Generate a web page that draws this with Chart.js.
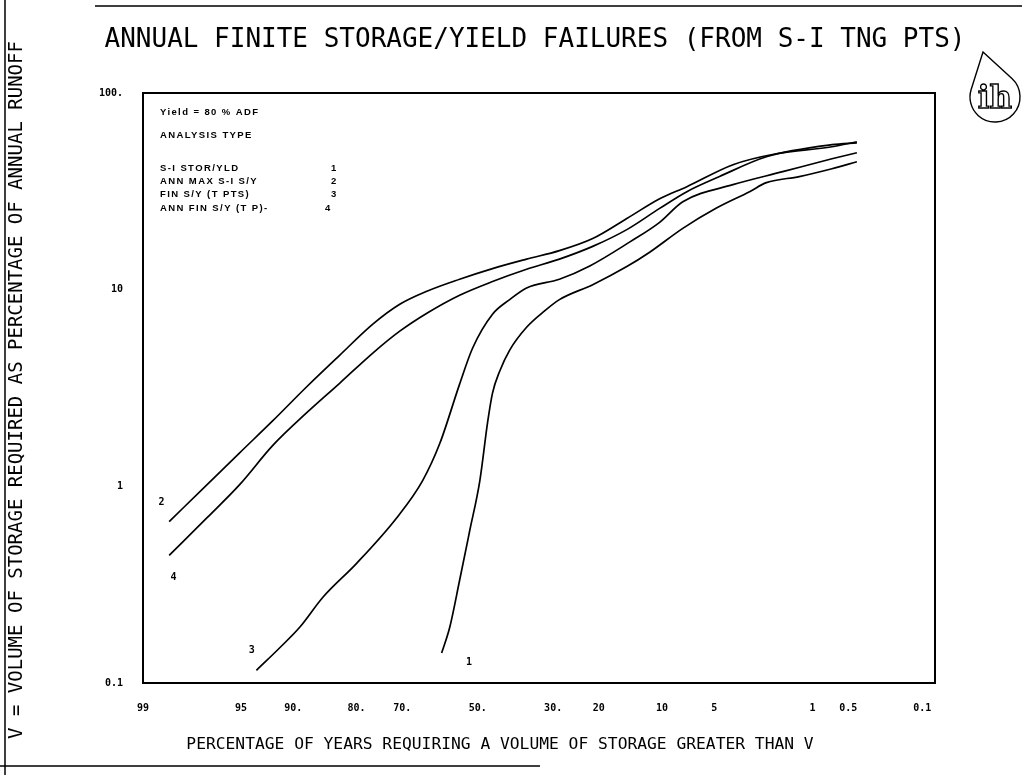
<!DOCTYPE html>
<html><head><meta charset="utf-8">
<script src="https://cdn.jsdelivr.net/npm/chart.js@4.4.1/dist/chart.umd.min.js"></script>
<style>html,body{margin:0;padding:0;background:#fff}#wrap{position:relative;width:1022px;height:775px}</style>
</head><body><div id="wrap"><canvas id="c"></canvas></div>
<script>
// ---------- text ----------
const titleText = "ANNUAL FINITE STORAGE/YIELD FAILURES (FROM S-I TNG PTS)";
const xTitle = "PERCENTAGE OF YEARS REQUIRING A VOLUME OF STORAGE GREATER THAN V";
const yTitle = "V = VOLUME OF STORAGE REQUIRED AS PERCENTAGE OF ANNUAL RUNOFF";
const legendHeader = ["Yield = 80 % ADF", "ANALYSIS TYPE"];
const seriesNames = ["S-I STOR/YLD", "ANN MAX S-I S/Y", "FIN S/Y (T PTS)", "ANN FIN S/Y (T P)-"];
const seriesNumbers = ["1", "2", "3", "4"];

// ---------- axes (x = percentage of years exceeding, probability scale) ----------
const xTickPct = [99, 95, 90, 80, 70, 50, 30, 20, 10, 5, 1, 0.5, 0.1];
const xTickLabels = ["99", "95", "90.", "80.", "70.", "50.", "30.", "20", "10", "5", "1", "0.5", "0.1"];
const xLeftPct = 99;
const xRightPct = 0.074;
const yTickValues = [0.1, 1, 10, 100];
const yTickLabels = ["0.1", "1", "10", "100."];

// ---------- series: exceedance % and storage volume (% of annual runoff) ----------
const pct1 = [59.9, 57.7, 55.0, 52.2, 49.4, 47.2, 45.9, 43.9, 41.2, 36.7, 32.1, 28.5, 21.2, 15.0, 11.6, 7.7, 4.85, 2.94, 2.24, 1.27, 0.69, 0.42];
const vol1 = [0.142, 0.192, 0.333, 0.596, 1.07, 2.15, 2.98, 3.86, 4.93, 6.44, 7.8, 8.9, 10.6, 13.1, 15.5, 20.5, 26, 31.5, 35, 37.6, 41.2, 44.7];

const pct2 = [98.4, 97.0, 95.1, 92.3, 88.3, 83.1, 76.7, 70.6, 63.8, 55.0, 45.9, 36.7, 28.5, 21.2, 15.0, 10.3, 7.3, 3.8, 1.9, 0.69, 0.42];
const vol2 = [0.662, 1.02, 1.48, 2.15, 3.2, 4.65, 6.68, 8.43, 9.82, 11.3, 12.8, 14.3, 15.8, 18.2, 23.0, 29.0, 33.4, 43.2, 49.1, 53.3, 56.5];

const pct3 = [93.8, 91.5, 89.2, 85.9, 80.0, 71.3, 64.9, 60.4, 55.0, 51.4, 45.9, 41.2, 36.7, 28.5, 21.8, 14.5, 10.3, 7.7, 3.8, 1.7, 0.69, 0.42];
const vol3 = [0.116, 0.152, 0.192, 0.273, 0.406, 0.693, 1.07, 1.65, 3.31, 5.05, 7.5, 8.9, 10.2, 11.3, 13.2, 17.5, 22.0, 28.0, 34.2, 39.8, 46.3, 49.7];

const pct4 = [98.4, 97.0, 95.1, 92.3, 88.3, 83.1, 76.7, 70.6, 63.8, 55.0, 45.9, 36.7, 28.5, 21.2, 15.0, 10.3, 7.3, 4.64, 2.24, 0.69, 0.42];
const vol4 = [0.446, 0.693, 1.02, 1.61, 2.36, 3.35, 4.76, 6.15, 7.59, 9.37, 11.0, 12.7, 14.3, 16.6, 20.2, 25.9, 31.5, 37.6, 47.4, 54.6, 55.8];

// ---------- inverse normal (probability paper transform) ----------
function probit(p) {
  const a=[-3.969683028665376e+01,2.209460984245205e+02,-2.759285104469687e+02,1.383577518672690e+02,-3.066479806614716e+01,2.506628277459239e+00];
  const b=[-5.447609879822406e+01,1.615858368580409e+02,-1.556989798598866e+02,6.680131188771972e+01,-1.328068155288572e+01];
  const c=[-7.784894002430293e-03,-3.223964580411365e-01,-2.400758277161838e+00,-2.549732539343734e+00,4.374664141464968e+00,2.938163982698783e+00];
  const d=[7.784695709041462e-03,3.224671290700398e-01,2.445134137142996e+00,3.754408661907416e+00];
  const pl=0.02425, ph=1-pl;
  if (p < pl) { const q=Math.sqrt(-2*Math.log(p)); return (((((c[0]*q+c[1])*q+c[2])*q+c[3])*q+c[4])*q+c[5])/((((d[0]*q+d[1])*q+d[2])*q+d[3])*q+1); }
  if (p <= ph) { const q=p-0.5, r=q*q; return (((((a[0]*r+a[1])*r+a[2])*r+a[3])*r+a[4])*r+a[5])*q/(((((b[0]*r+b[1])*r+b[2])*r+b[3])*r+b[4])*r+1); }
  const q=Math.sqrt(-2*Math.log(1-p)); return -(((((c[0]*q+c[1])*q+c[2])*q+c[3])*q+c[4])*q+c[5])/((((d[0]*q+d[1])*q+d[2])*q+d[3])*q+1);
}
const zOf = p => probit(1 - p / 100);
const toPts = (P, V) => P.map((p, i) => ({x: zOf(p), y: V[i]}));

const allPct = [pct1, pct2, pct3, pct4];
const allVol = [vol1, vol2, vol3, vol4];
// offsets of the curve-number labels from each curve's first point
const labelOffsets = [[28, 9], [-7, -19], [-4, -20], [5, 22]];

const mono = "'DejaVu Sans Mono', monospace";

const decor = {
  id: 'decor',
  afterDraw(chart) {
    const ctx = chart.ctx, ca = chart.chartArea;
    ctx.save();
    ctx.strokeStyle = '#000'; ctx.fillStyle = '#000';
    // plot frame
    ctx.lineWidth = 2;
    ctx.strokeRect(ca.left, ca.top, ca.right - ca.left, ca.bottom - ca.top);
    // page border fragments
    ctx.lineWidth = 1.5;
    ctx.beginPath();
    ctx.moveTo(95, 6); ctx.lineTo(1022, 6);
    ctx.moveTo(5, 0); ctx.lineTo(5, 775);
    ctx.moveTo(0, 766); ctx.lineTo(540, 766);
    ctx.stroke();
    // title
    ctx.textAlign = 'center'; ctx.textBaseline = 'middle';
    ctx.font = "26px " + mono;
    ctx.fillText(titleText, 535, 40);
    // x title
    ctx.font = "16.3px " + mono;
    ctx.fillText(xTitle, 500, 745);
    // y title
    ctx.save();
    ctx.translate(17, 390); ctx.rotate(-Math.PI / 2);
    ctx.font = "19px " + mono;
    ctx.fillText(yTitle, 0, 0);
    ctx.restore();
    // legend block
    ctx.textAlign = 'left';
    ctx.font = "bold 9.5px 'Liberation Sans', sans-serif";
    if ('letterSpacing' in ctx) ctx.letterSpacing = '1.4px';
    const lx = ca.left + 17;
    ctx.fillText(legendHeader[0], lx, ca.top + 19);
    ctx.fillText(legendHeader[1], lx, ca.top + 42);
    for (let i = 0; i < 4; i++) {
      const yy = ca.top + 75 + i * 13.3;
      ctx.fillText(seriesNames[i], lx, yy);
      ctx.fillText(seriesNumbers[i], ca.left + (i === 3 ? 182 : 188), yy);
    }
    // curve number labels at the start of each curve
    ctx.font = "bold 10px " + mono;
    ctx.textAlign = 'center';
    chart.data.datasets.forEach((ds, i) => {
      const m = chart.getDatasetMeta(i);
      const p0 = m.data[0];
      ctx.fillText(seriesNumbers[i], p0.x + labelOffsets[i][0], p0.y + labelOffsets[i][1]);
    });
    if ('letterSpacing' in ctx) ctx.letterSpacing = '0px';
    // ih logo (drop)
    const C = {x: 995, y: 97}, r = 25, T = {x: 983, y: 52};
    const dx = T.x - C.x, dy = T.y - C.y, dd = Math.hypot(dx, dy);
    const th = Math.atan2(dy, dx), al = Math.acos(r / dd);
    ctx.lineWidth = 1.4;
    ctx.beginPath();
    ctx.moveTo(T.x, T.y);
    ctx.lineTo(C.x + r * Math.cos(th + al), C.y + r * Math.sin(th + al));
    ctx.arc(C.x, C.y, r, th + al, th - al + 2 * Math.PI, false);
    ctx.closePath();
    ctx.stroke();
    ctx.font = "bold 31px 'DejaVu Serif', serif";
    ctx.textAlign = 'center';
    ctx.lineWidth = 1.4;
    ctx.strokeText("ih", C.x, C.y + 3);
    ctx.restore();
  }
};

const tickFont = {family: "'DejaVu Sans Mono', monospace", size: 10, weight: 'bold'};

new Chart(document.getElementById('c'), {
  type: 'line',
  data: {
    datasets: allPct.map((P, i) => ({
      label: seriesNames[i],
      data: toPts(P, allVol[i]),
      borderColor: '#000',
      borderWidth: 1.7,
      pointRadius: 0,
      fill: false,
      cubicInterpolationMode: 'monotone'
    }))
  },
  options: {
    responsive: true,
    maintainAspectRatio: false,
    animation: false,
    layout: {padding: {top: 93, right: 87, left: 0, bottom: 0}},
    plugins: {legend: {display: false}, tooltip: {enabled: false}},
    scales: {
      x: {
        type: 'linear',
        min: zOf(xLeftPct),
        max: zOf(xRightPct),
        afterBuildTicks: s => { s.ticks = xTickPct.map(p => ({value: zOf(p)})); },
        afterFit: s => { s.height = 92; },
        ticks: {callback: (v, i) => xTickLabels[i], autoSkip: false, maxRotation: 0, padding: 11, color: '#000', font: tickFont},
        grid: {display: false},
        border: {display: false}
      },
      y: {
        type: 'logarithmic',
        min: 0.1,
        max: 100,
        afterBuildTicks: s => { s.ticks = yTickValues.map(v => ({value: v})); },
        afterFit: s => { s.width = 143; },
        ticks: {callback: (v, i) => yTickLabels[i], autoSkip: false, padding: 12, color: '#000', font: tickFont},
        grid: {display: false},
        border: {display: false}
      }
    }
  },
  plugins: [decor]
});
</script></body></html>
